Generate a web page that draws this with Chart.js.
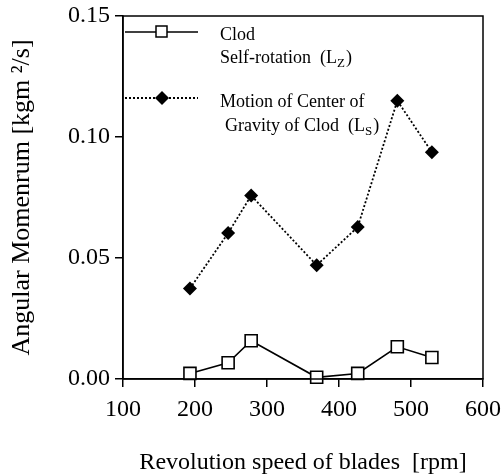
<!DOCTYPE html>
<html>
<head>
<meta charset="utf-8">
<script src="https://cdn.jsdelivr.net/npm/chart.js@4.4.1/dist/chart.umd.min.js"></script>
<style>
  html, body { margin: 0; padding: 0; background: #fff; }
  #wrap { width: 504px; height: 475px; }
</style>
</head>
<body>
<div id="wrap"><canvas id="chart"></canvas></div>
<script>
// revolution speed of blades [rpm]
const rpm = [193, 246, 278, 369, 426, 481, 529];
// clod self-rotation (Lz)
const selfRotation = [0.0023, 0.0067, 0.0158, 0.0007, 0.0023, 0.0133, 0.0089];
// motion of center of gravity of clod (Ls)
const centerMotion = [0.0374, 0.0603, 0.0758, 0.0470, 0.0628, 0.1150, 0.0937];

const xTicks = [100, 200, 300, 400, 500, 600];
const yTicks = [0, 0.05, 0.10, 0.15];

const serif = 'Liberation Serif';

// box around the plot
const frame = {
  id: 'frame',
  afterDatasetsDraw(chart) {
    const { ctx, chartArea: a } = chart;
    ctx.save();
    ctx.strokeStyle = '#000';
    ctx.lineWidth = 1.5;
    ctx.strokeRect(a.left, a.top, a.right - a.left, a.bottom - a.top);
    ctx.restore();
  }
};

// legend with subscripts, drawn by hand
function textSub(ctx, x, y, main, sub, tail) {
  ctx.font = '18px "' + serif + '"';
  ctx.fillText(main, x, y);
  let w = ctx.measureText(main).width;
  ctx.font = '13px "' + serif + '"';
  ctx.fillText(sub, x + w, y + 4);
  w += ctx.measureText(sub).width;
  ctx.font = '18px "' + serif + '"';
  ctx.fillText(tail, x + w + 1, y);
}

const legendBox = {
  id: 'legendBox',
  afterDraw(chart) {
    const ctx = chart.ctx;
    ctx.save();
    ctx.strokeStyle = '#000';
    ctx.fillStyle = '#000';
    ctx.lineWidth = 1.5;
    // solid line + open square
    ctx.beginPath();
    ctx.moveTo(125, 32); ctx.lineTo(198, 32);
    ctx.stroke();
    ctx.fillStyle = '#fff';
    ctx.fillRect(156, 26, 11, 11);
    ctx.strokeRect(156, 26, 11, 11);
    // dotted line + diamond
    ctx.lineWidth = 1.8;
    ctx.setLineDash([2, 2]);
    ctx.beginPath();
    ctx.moveTo(125, 98); ctx.lineTo(198, 98);
    ctx.stroke();
    ctx.setLineDash([]);
    ctx.fillStyle = '#000';
    ctx.beginPath();
    ctx.moveTo(162, 91); ctx.lineTo(169, 98); ctx.lineTo(162, 105); ctx.lineTo(155, 98);
    ctx.closePath();
    ctx.fill();

    ctx.textBaseline = 'alphabetic';
    ctx.textAlign = 'left';
    ctx.font = '18px "' + serif + '"';
    ctx.fillText('Clod', 220, 40);
    textSub(ctx, 220, 63, 'Self-rotation  (L', 'Z', ')');
    ctx.font = '18px "' + serif + '"';
    ctx.fillText('Motion of Center of', 220, 107);
    textSub(ctx, 225, 131, 'Gravity of Clod  (L', 'S', ')');
    ctx.restore();
  }
};

new Chart(document.getElementById('chart'), {
  type: 'line',
  data: {
    datasets: [{
      label: 'Clod Self-rotation (LZ)',
      data: rpm.map((x, i) => ({ x: x, y: selfRotation[i] })),
      borderColor: '#000',
      borderWidth: 1.6,
      pointStyle: 'rect',
      pointRadius: 8.5,
      pointBackgroundColor: '#fff',
      pointBorderColor: '#000',
      pointBorderWidth: 1.6,
      clip: false
    }, {
      label: 'Motion of Center of Gravity of Clod (LS)',
      data: rpm.map((x, i) => ({ x: x, y: centerMotion[i] })),
      borderColor: '#000',
      borderWidth: 1.8,
      borderDash: [2, 2],
      pointStyle: 'rectRot',
      pointRadius: 7,
      pointBackgroundColor: '#000',
      pointBorderColor: '#000',
      pointBorderWidth: 0,
      clip: false
    }]
  },
  options: {
    responsive: true,
    maintainAspectRatio: false,
    animation: false,
    layout: { padding: { top: 16, right: 21, left: 0, bottom: 0 } },
    plugins: { legend: { display: false }, tooltip: { enabled: false } },
    scales: {
      x: {
        type: 'linear',
        min: 100,
        max: 600,
        afterBuildTicks: s => { s.ticks = xTicks.map(v => ({ value: v })); },
        afterFit: s => { s.height = 96; s.paddingLeft = 0; s.paddingRight = 0; },
        grid: { drawOnChartArea: false, drawTicks: true, tickLength: 8, color: '#000', lineWidth: 1.5 },
        border: { display: true, color: '#000', width: 1.5 },
        ticks: { color: '#000', padding: 8, maxRotation: 0, font: { family: serif, size: 24 } },
        title: {
          display: true,
          text: 'Revolution speed of blades  [rpm]',
          color: '#000',
          font: { family: serif, size: 24, lineHeight: 1.0 },
          padding: { top: 0, bottom: 0 }
        }
      },
      y: {
        min: 0,
        max: 0.15,
        afterBuildTicks: s => { s.ticks = yTicks.map(v => ({ value: v })); },
        afterFit: s => { s.width = 123; s.paddingTop = 0; s.paddingBottom = 0; },
        grid: { drawOnChartArea: false, drawTicks: true, tickLength: 8, color: '#000', lineWidth: 1.5 },
        border: { display: true, color: '#000', width: 1.5 },
        ticks: { color: '#000', padding: 5, callback: v => v.toFixed(2), font: { family: serif, size: 24 } },
        title: {
          display: true,
          text: 'Angular Momenrum [kgm \u00b2/s]',
          color: '#000',
          font: { family: serif, size: 26, lineHeight: 1.0 },
          padding: { top: 9, bottom: 0 }
        }
      }
    }
  },
  plugins: [frame, legendBox]
});
</script>
</body>
</html>
